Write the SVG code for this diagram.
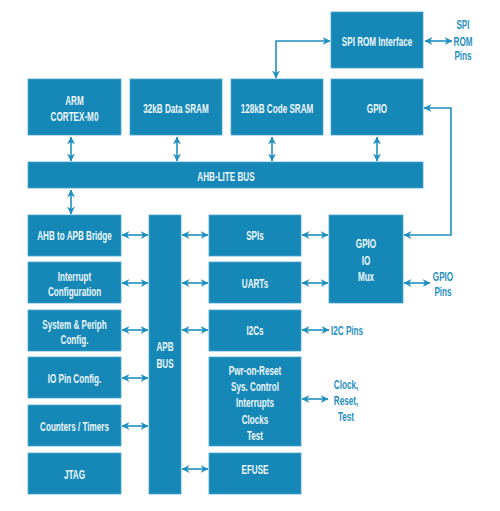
<svg xmlns="http://www.w3.org/2000/svg" width="500" height="511" viewBox="0 0 500 511">
<defs>
<style>
.box{fill:#1688b8;stroke:#4fa9d0;stroke-width:0.8}
.t{font-family:"Liberation Sans",Arial,sans-serif;font-size:12.5px;font-weight:bold;fill:#eef7fb;text-anchor:middle}
.l{font-family:"Liberation Sans",Arial,sans-serif;font-size:12.5px;font-weight:bold;fill:#1f8fc0;text-anchor:middle}
.c{fill:none;stroke:#1f8fc0;stroke-width:1.6;marker-start:url(#ah);marker-end:url(#ah)}
</style>
<marker id="ah" viewBox="0 0 8 8" markerUnits="userSpaceOnUse" markerWidth="8" markerHeight="8" refX="7.5" refY="4" orient="auto-start-reverse">
<path d="M0,0 L8,4 L0,8 L2.5,4 z" fill="#1f8fc0"/>
</marker>
</defs>
<rect width="500" height="511" fill="#ffffff"/>
<g id="connectors">
<path class="c" d="M71,137 V161"/>
<path class="c" d="M177,137 V161"/>
<path class="c" d="M272,137 V161"/>
<path class="c" d="M377,137 V161"/>
<path class="c" d="M71,190 V214"/>
<path class="c" d="M276,78 V41 H330"/>
<path class="c" d="M425,41 H452"/>
<path class="c" d="M424,108 H451 V235 H404"/>
<path class="c" d="M122,235 H148"/>
<path class="c" d="M122,283 H148"/>
<path class="c" d="M122,330 H148"/>
<path class="c" d="M122,378 H148"/>
<path class="c" d="M122,426 H148"/>
<path class="c" d="M182,235 H208"/>
<path class="c" d="M182,283 H208"/>
<path class="c" d="M182,330 H208"/>
<path class="c" d="M182,469 H208"/>
<path class="c" d="M302,235 H328"/>
<path class="c" d="M302,283 H328"/>
<path class="c" d="M302,330 H329"/>
<path class="c" d="M404,283 H430"/>
<path class="c" d="M302,399 H328"/>
</g>
<g id="spirom"><rect class="box" x="331" y="12" width="92" height="56"/><text class="t" transform="translate(377,45.5) scale(0.65,1)">SPI ROM Interface</text></g>
<g id="arm"><rect class="box" x="28" y="79" width="93" height="56"/><text class="t" transform="translate(74.5,105) scale(0.65,1)">ARM</text><text class="t" transform="translate(74.5,121) scale(0.65,1)">CORTEX-M0</text></g>
<g id="dsram"><rect class="box" x="130" y="79" width="92" height="56"/><text class="t" transform="translate(176,113) scale(0.65,1)">32kB Data SRAM</text></g>
<g id="csram"><rect class="box" x="231" y="79" width="92" height="56"/><text class="t" transform="translate(277,113) scale(0.65,1)">128kB Code SRAM</text></g>
<g id="gpio"><rect class="box" x="331" y="79" width="92" height="56"/><text class="t" transform="translate(377,112.5) scale(0.65,1)">GPIO</text></g>
<g id="ahb"><rect class="box" x="28" y="162" width="395" height="26"/><text class="t" transform="translate(226,180.5) scale(0.65,1)">AHB-LITE BUS</text></g>
<g id="bridge"><rect class="box" x="28" y="215" width="93" height="41"/><text class="t" transform="translate(74.5,239.5) scale(0.65,1)">AHB to APB Bridge</text></g>
<g id="intc"><rect class="box" x="28" y="262" width="93" height="41"/><text class="t" transform="translate(74.5,280.5) scale(0.65,1)">Interrupt</text><text class="t" transform="translate(74.5,296) scale(0.65,1)">Configuration</text></g>
<g id="sysp"><rect class="box" x="28" y="310" width="93" height="41"/><text class="t" transform="translate(74.5,328.5) scale(0.65,1)">System &amp; Periph</text><text class="t" transform="translate(74.5,343.5) scale(0.65,1)">Config.</text></g>
<g id="iopin"><rect class="box" x="28" y="357" width="93" height="41"/><text class="t" transform="translate(74.5,382.5) scale(0.65,1)">IO Pin Config.</text></g>
<g id="counters"><rect class="box" x="28" y="405" width="93" height="41"/><text class="t" transform="translate(74.5,430.5) scale(0.65,1)">Counters / Timers</text></g>
<g id="jtag"><rect class="box" x="28" y="453" width="93" height="41"/><text class="t" transform="translate(74.5,478.5) scale(0.65,1)">JTAG</text></g>
<g id="apb"><rect class="box" x="149" y="215" width="32" height="279"/><text class="t" transform="translate(165,351) scale(0.65,1)">APB</text><text class="t" transform="translate(165,367.5) scale(0.65,1)">BUS</text></g>
<g id="spis"><rect class="box" x="209" y="215" width="92" height="41"/><text class="t" transform="translate(255,239.5) scale(0.65,1)">SPIs</text></g>
<g id="uarts"><rect class="box" x="209" y="262" width="92" height="41"/><text class="t" transform="translate(255,287.5) scale(0.65,1)">UARTs</text></g>
<g id="i2cs"><rect class="box" x="209" y="310" width="92" height="41"/><text class="t" transform="translate(255,334.5) scale(0.65,1)">I2Cs</text></g>
<g id="pwr"><rect class="box" x="209" y="357" width="92" height="89"/><text class="t" transform="translate(255,375) scale(0.65,1)">Pwr-on-Reset</text><text class="t" transform="translate(255,391) scale(0.65,1)">Sys. Control</text><text class="t" transform="translate(255,407) scale(0.65,1)">Interrupts</text><text class="t" transform="translate(255,423.5) scale(0.65,1)">Clocks</text><text class="t" transform="translate(255,439.5) scale(0.65,1)">Test</text></g>
<g id="efuse"><rect class="box" x="209" y="453" width="92" height="41"/><text class="t" transform="translate(255,474) scale(0.65,1)">EFUSE</text></g>
<g id="mux"><rect class="box" x="329" y="215" width="74" height="88"/><text class="t" transform="translate(366,248) scale(0.65,1)">GPIO</text><text class="t" transform="translate(366,264.5) scale(0.65,1)">IO</text><text class="t" transform="translate(366,280.5) scale(0.65,1)">Mux</text></g>
<g id="labels">
<text class="l" transform="translate(463,28.5) scale(0.65,1)">SPI</text><text class="l" transform="translate(463,45.5) scale(0.65,1)">ROM</text><text class="l" transform="translate(463,59.5) scale(0.65,1)">Pins</text>
<text class="l" transform="translate(443,280.5) scale(0.65,1)">GPIO</text><text class="l" transform="translate(443,296) scale(0.65,1)">Pins</text>
<text class="l" transform="translate(331,334.5) scale(0.65,1)" style="text-anchor:start">I2C Pins</text>
<text class="l" transform="translate(346,388.5) scale(0.65,1)">Clock,</text><text class="l" transform="translate(346,404.5) scale(0.65,1)">Reset,</text><text class="l" transform="translate(346,420.5) scale(0.65,1)">Test</text>
</g>
</svg>
